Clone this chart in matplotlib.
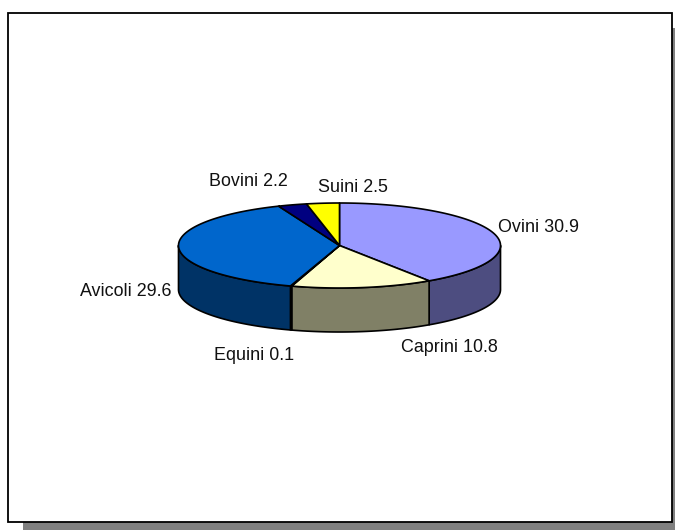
import numpy as np
import matplotlib
matplotlib.use('Agg')
import matplotlib.pyplot as plt
from matplotlib.patches import Rectangle

plt.rcParams['font.family'] = ['Liberation Sans', 'DejaVu Sans']

# data
categories = ['Ovini', 'Caprini', 'Equini', 'Avicoli', 'Bovini', 'Suini']
values = [30.9, 10.8, 0.1, 29.6, 2.2, 2.5]

# styles
top_colors = ['#9999FF', '#FFFFCC', '#660066', '#0066CC', '#000080', '#FFFF00']
side_colors = ['#4D4D80', '#808066', '#330033', '#003366', '#000040', '#808000']
label_pos = [(539, 228), (449, 347), (254, 356), (126, 291), (248, 182), (353, 187)]

# pie geometry, in pixels
cx, cy = 339.5, 245.5
rx, ry = 161, 42.5
depth = 44

fig = plt.figure(figsize=(6.75, 5.3), dpi=100)
ax = fig.add_axes([0, 0, 1, 1])
ax.set_xlim(0, 675)
ax.set_ylim(530, 0)
ax.axis('off')

# frame and its shadow
ax.add_patch(Rectangle((23, 28), 652, 502, facecolor='#808080', edgecolor='none', zorder=0))
ax.add_patch(Rectangle((8, 13), 663.5, 509, facecolor='white', edgecolor='black', lw=1.3, zorder=1))


def rim(a0, a1, offset=0):
    # clockwise angle from the top of the ellipse
    t = np.radians(np.linspace(a0, a1, max(int(abs(a1 - a0)) * 2, 2)))
    return cx + rx * np.sin(t), cy - ry * np.cos(t) + offset


edges = np.cumsum([0] + values) / sum(values) * 360

# side walls, only the front half of the rim shows
for i in range(len(values)):
    a0, a1 = max(edges[i], 90), min(edges[i + 1], 270)
    if a1 <= a0:
        continue
    x0, y0 = rim(a0, a1)
    x1, y1 = rim(a0, a1, depth)
    ax.fill(np.r_[x0, x1[::-1]], np.r_[y0, y1[::-1]], facecolor=side_colors[i],
            edgecolor='black', lw=1.2, joinstyle='round', zorder=2)

# top slices
for i in range(len(values)):
    x0, y0 = rim(edges[i], edges[i + 1])
    ax.fill(np.r_[cx, x0], np.r_[cy, y0], facecolor=top_colors[i],
            edgecolor='black', lw=1.2, joinstyle='round', zorder=3)

for name, val, (lx, ly) in zip(categories, values, label_pos):
    ax.text(lx, ly, f'{name} {val}', ha='center', va='center', fontsize=12.9,
            color='#111111', zorder=4)

fig.savefig('out.png', dpi=100)
